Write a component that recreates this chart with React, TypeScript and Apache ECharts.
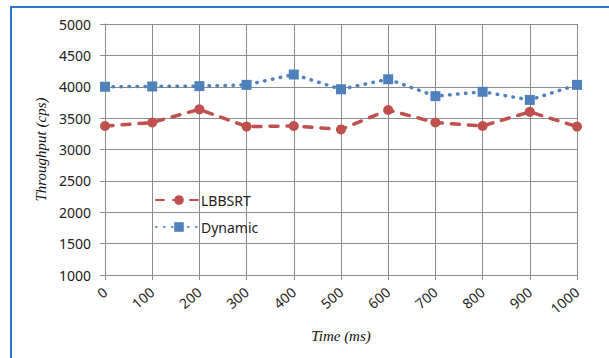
import React, { useEffect, useRef } from "react";
import * as echarts from "echarts";

const categories = ["0", "100", "200", "300", "400", "500", "600", "700", "800", "900", "1000"];
const lbbsrt = [3375, 3430, 3640, 3365, 3375, 3320, 3630, 3430, 3375, 3600, 3365];
const dynamic = [4000, 4005, 4010, 4030, 4195, 3960, 4120, 3850, 3920, 3790, 4030];
const seriesNames = ["LBBSRT", "Dynamic"];

export default function App() {
  const ref = useRef<HTMLDivElement>(null);
  useEffect(() => {
    if (!ref.current) return;
    const chart = echarts.init(ref.current, undefined, { renderer: "svg" });
    const labelFont = { fontFamily: "Noto Sans", fontSize: 14, color: "#222" };
    chart.setOption({
      animation: false,
      backgroundColor: "#fff",
      graphic: [
        { type: "line", shape: { x1: 10, y1: 7, x2: 609, y2: 7 }, style: { stroke: "#2878d0", lineWidth: 2 } },
        { type: "line", shape: { x1: 11, y1: 6, x2: 11, y2: 358 }, style: { stroke: "#2878d0", lineWidth: 2 } },
      ],
      grid: { left: 105, top: 24, width: 472, height: 251, containLabel: false },
      legend: {
        orient: "vertical",
        left: 150,
        top: 188,
        itemWidth: 46,
        itemHeight: 12,
        itemGap: 13,
        data: seriesNames,
        textStyle: { ...labelFont, padding: [0, 0, 0, -6] },
      },
      xAxis: {
        type: "category",
        boundaryGap: false,
        data: categories,
        name: "Time (ms)",
        nameLocation: "middle",
        nameGap: 53,
        nameTextStyle: { fontFamily: "Liberation Serif", fontStyle: "italic", fontSize: 15, color: "#111" },
        axisLine: { lineStyle: { color: "#8c8c8c", width: 1 } },
        axisTick: { show: true, length: 5, alignWithLabel: true, lineStyle: { color: "#8c8c8c" } },
        axisLabel: { ...labelFont, rotate: 40, margin: 15, interval: 0 },
        splitLine: { show: true, lineStyle: { color: "#8c8c8c", width: 1 } },
      },
      yAxis: {
        type: "value",
        min: 1000,
        max: 5000,
        interval: 500,
        name: "Throughput (cps)",
        nameLocation: "middle",
        nameGap: 54,
        nameTextStyle: { fontFamily: "Liberation Serif", fontStyle: "italic", fontSize: 15, color: "#111" },
        axisLine: { show: true, lineStyle: { color: "#8c8c8c", width: 1 } },
        axisTick: { show: true, length: 5, lineStyle: { color: "#8c8c8c" } },
        axisLabel: { ...labelFont, margin: 14, formatter: (v: number) => String(v) },
        splitLine: { show: true, lineStyle: { color: "#8c8c8c", width: 1 } },
      },
      series: [
        {
          name: seriesNames[0],
          type: "line",
          data: lbbsrt,
          symbol: "circle",
          symbolSize: 10,
          itemStyle: { color: "#c0504d" },
          lineStyle: { color: "#c0504d", width: 3.5, type: [8, 9], cap: "round" },
        },
        {
          name: seriesNames[1],
          type: "line",
          data: dynamic,
          symbol: "rect",
          symbolSize: 10,
          itemStyle: { color: "#4f81bd" },
          lineStyle: { color: "#4f81bd", width: 3.5, type: [0.5, 7.5], cap: "round" },
        },
      ],
    });
    return () => chart.dispose();
  }, []);
  return (
    <div
      ref={ref}
      style={{ position: "absolute", left: 0, top: 0, width: 609, height: 358 }}
    />
  );
}
